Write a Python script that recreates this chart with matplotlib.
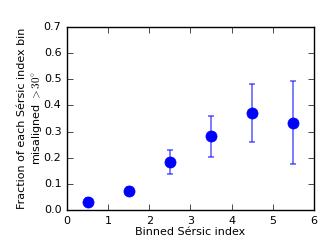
import matplotlib
matplotlib.use("Agg")
import matplotlib.pyplot as plt

plt.style.use('classic')

bins = [0.5, 1.5, 2.5, 3.5, 4.5, 5.5]
fraction = [0.032, 0.074, 0.183, 0.282, 0.369, 0.334]
err_low = [0.015, 0.015, 0.047, 0.081, 0.110, 0.159]
err_high = [0.015, 0.015, 0.046, 0.079, 0.112, 0.158]

fig = plt.figure(figsize=(3.27, 2.45), dpi=100)
fig.patch.set_facecolor('white')
ax = fig.add_axes([0.205, 0.143, 0.755, 0.747])

ax.errorbar(bins, fraction, yerr=[err_low, err_high], fmt='none',
            ecolor='blue', alpha=0.6, elinewidth=1.2, capsize=2, capthick=1.2)
ax.plot(bins, fraction, 'o', color='blue', markersize=8, markeredgecolor='blue')

ax.set_xlim(0, 6)
ax.set_ylim(0, 0.7)
ax.set_xticks([0, 1, 2, 3, 4, 5, 6])
ax.set_yticks([0.0, 0.1, 0.2, 0.3, 0.4, 0.5, 0.6, 0.7])
ax.tick_params(labelsize=8)
ax.set_xlabel('Binned Sérsic index', fontsize=8, labelpad=1)
ax.set_ylabel('Fraction of each Sérsic index bin\nmisaligned $>30^{\\circ}$',
              fontsize=8, labelpad=0, linespacing=1.3)

fig.savefig('out.png', dpi=100, facecolor='white')
